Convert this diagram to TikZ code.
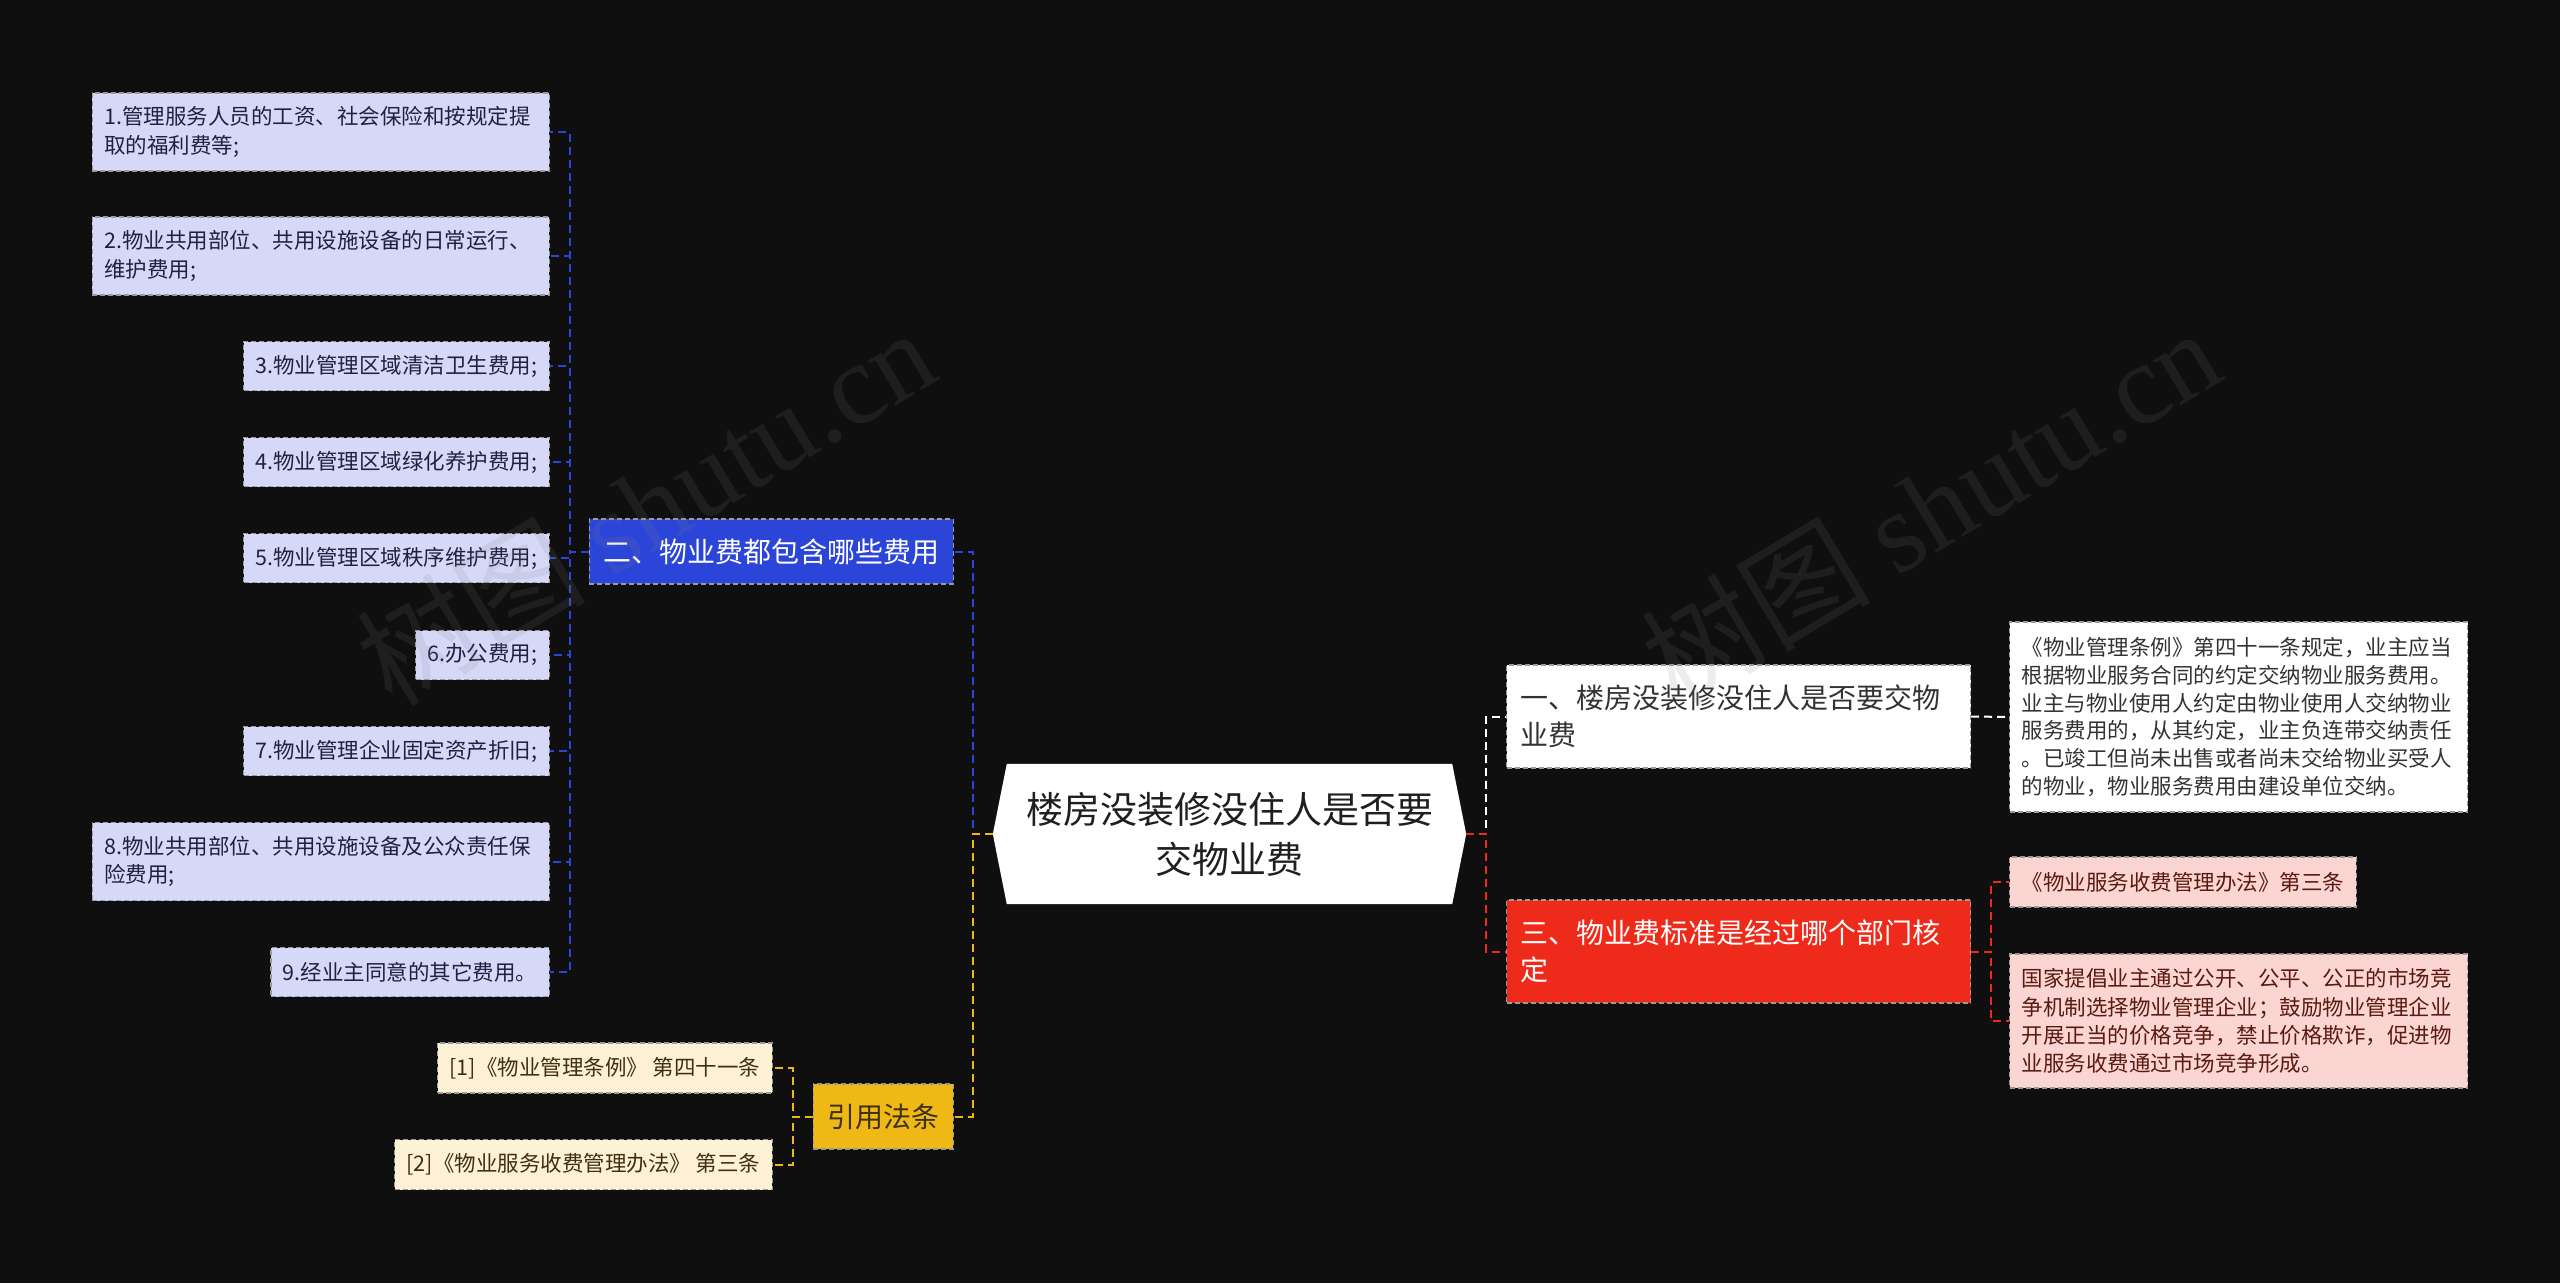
\documentclass[tikz,border=0pt]{standalone}
\usepackage{fontspec}
\setmainfont{Noto Sans CJK SC}
\newfontfamily\wmlatin{Liberation Serif}
\usetikzlibrary{backgrounds,calc}

\definecolor{bgc}{HTML}{0F0F10}
\definecolor{lav}{HTML}{D5D9F7}
\definecolor{lavtxt}{HTML}{1E2140}
\definecolor{bluec}{HTML}{2B45D8}
\definecolor{yelc}{HTML}{F0B814}
\definecolor{cream}{HTML}{FCF1D5}
\definecolor{creamtxt}{HTML}{3E3012}
\definecolor{redc}{HTML}{EE2B1B}
\definecolor{pinkc}{HTML}{FBD5D1}
\definecolor{pinktxt}{HTML}{5A1A12}
\definecolor{darktxt}{HTML}{333333}
\definecolor{bordc}{HTML}{9A9A9A}

\begin{document}
\begin{tikzpicture}[x=1pt,y=-1pt,
  base/.style={rectangle, inner xsep=12pt, inner ysep=0pt, draw=bordc,
    dash pattern=on 5pt off 3pt, line width=1.2pt},
  small/.style={font=\fontsize{21.5}{28.5}\selectfont},
  leaf/.style={base, small, fill=lav, text=lavtxt, minimum height=49pt, anchor=east},
  leafwide/.style={leaf, text width=433pt, align=left, minimum height=78pt},
  refbox/.style={base, small, fill=cream, text=creamtxt, minimum height=50pt, anchor=east},
  branch/.style={base, inner xsep=14pt, font=\fontsize{28}{37}\selectfont, minimum height=65pt},
  rootbox/.style={font=\fontsize{37}{50}\selectfont, text=black!88, align=center,
    minimum width=473pt, minimum height=140pt, inner sep=0pt},
  conn/.style={line width=2pt, dash pattern=on 8pt off 5pt},
  wm/.style={rotate=31, text=gray, opacity=0.14, font=\fontsize{115}{115}\selectfont}
]
\useasboundingbox (0,0) rectangle (2560,1283);

% root
\node[rootbox] (root) at (1229.5,834) {楼房没装修没住人是否要\\交物业费};

% left branch: blue
\node[branch, fill=bluec, text=white, anchor=east] (b2) at (954,551.5) {二、物业费都包含哪些费用};
\node[leafwide] (l1) at (550,132) {1.管理服务人员的工资、社会保险和按规定提\\取的福利费等;};
\node[leafwide] (l2) at (550,256) {2.物业共用部位、共用设施设备的日常运行、\\维护费用;};
\node[leaf] (l3) at (550,366) {3.物业管理区域清洁卫生费用;};
\node[leaf] (l4) at (550,462) {4.物业管理区域绿化养护费用;};
\node[leaf] (l5) at (550,558) {5.物业管理区域秩序维护费用;};
\node[leaf] (l6) at (550,655) {6.办公费用;};
\node[leaf] (l7) at (550,751) {7.物业管理企业固定资产折旧;};
\node[leafwide] (l8) at (550,861.5) {8.物业共用部位、共用设施设备及公众责任保\\险费用;};
\node[leaf] (l9) at (550,972) {9.经业主同意的其它费用。};

% left branch: yellow
\node[branch, fill=yelc, text=creamtxt, anchor=east] (b4) at (954,1116.5) {引用法条};
\node[refbox] (r1) at (773,1068) {[1]《物业管理条例》 第四十一条};
\node[refbox] (r2) at (773,1164.5) {[2]《物业服务收费管理办法》 第三条};

% right branch: white
\node[branch, fill=white, text=darktxt, text width=436pt, align=left, minimum height=103pt, anchor=west] (b1) at (1506,716.5) {一、楼房没装修没住人是否要交物\\业费};
\node[base, small, font=\fontsize{21.5}{27.7}\selectfont, fill=white, text=darktxt, text width=434pt, align=left, minimum height=190pt, anchor=west] (d1) at (2009,717) {《物业管理条例》第四十一条规定，业主应当\\根据物业服务合同的约定交纳物业服务费用。\\业主与物业使用人约定由物业使用人交纳物业\\服务费用的，从其约定，业主负连带交纳责任\\。已竣工但尚未出售或者尚未交给物业买受人\\的物业，物业服务费用由建设单位交纳。};

% right branch: red
\node[branch, fill=redc, text=white, text width=436pt, align=left, minimum height=103pt, anchor=west] (b3) at (1506,951.5) {三、物业费标准是经过哪个部门核\\定};
\node[base, small, fill=pinkc, text=pinktxt, minimum height=50pt, anchor=west] (p1) at (2009,882) {《物业服务收费管理办法》第三条};
\node[base, small, font=\fontsize{21.5}{28.3}\selectfont, fill=pinkc, text=pinktxt, text width=434pt, align=left, minimum height=134pt, anchor=west] (p2) at (2009,1021) {国家提倡业主通过公开、公平、公正的市场竞\\争机制选择物业管理企业；鼓励物业管理企业\\开展正当的价格竞争，禁止价格欺诈，促进物\\业服务收费通过市场竞争形成。};

% connectors
\draw[conn, bluec] (root.west) -- ++(-20,0) |- (b2.east);
\foreach \n in {l1,l2,l3,l4,l5,l6,l7,l8,l9}
  \draw[conn, bluec] (b2.west) -- ++(-19,0) |- (\n.east);
\draw[conn, yelc] (root.west) -- ++(-20,0) |- (b4.east);
\foreach \n in {r1,r2}
  \draw[conn, yelc] (b4.west) -- ++(-20,0) |- (\n.east);
\draw[conn, white] (root.east) -- ++(20,0) |- (b1.west);
\draw[conn, redc] (root.east) -- ++(20,0) |- (b3.west);
\draw[conn, white] (b1.east) -- (d1.west);
\foreach \n in {p1,p2}
  \draw[conn, redc] (b3.east) -- ++(20,0) |- (\n.west);

% watermarks
\node[wm] (wm1) at (645,506) {树图 {\wmlatin shutu.cn}};
\node[wm] (wm2) at (1930,506) {树图 {\wmlatin shutu.cn}};

\begin{scope}[on background layer]
  \fill[bgc] (0,0) rectangle (2560,1283);
  \fill[white] (root.west) -- ([xshift=14pt]root.north west) -- ([xshift=-14pt]root.north east)
    -- (root.east) -- ([xshift=-14pt]root.south east) -- ([xshift=14pt]root.south west) -- cycle;
\end{scope}
\end{tikzpicture}
\end{document}
